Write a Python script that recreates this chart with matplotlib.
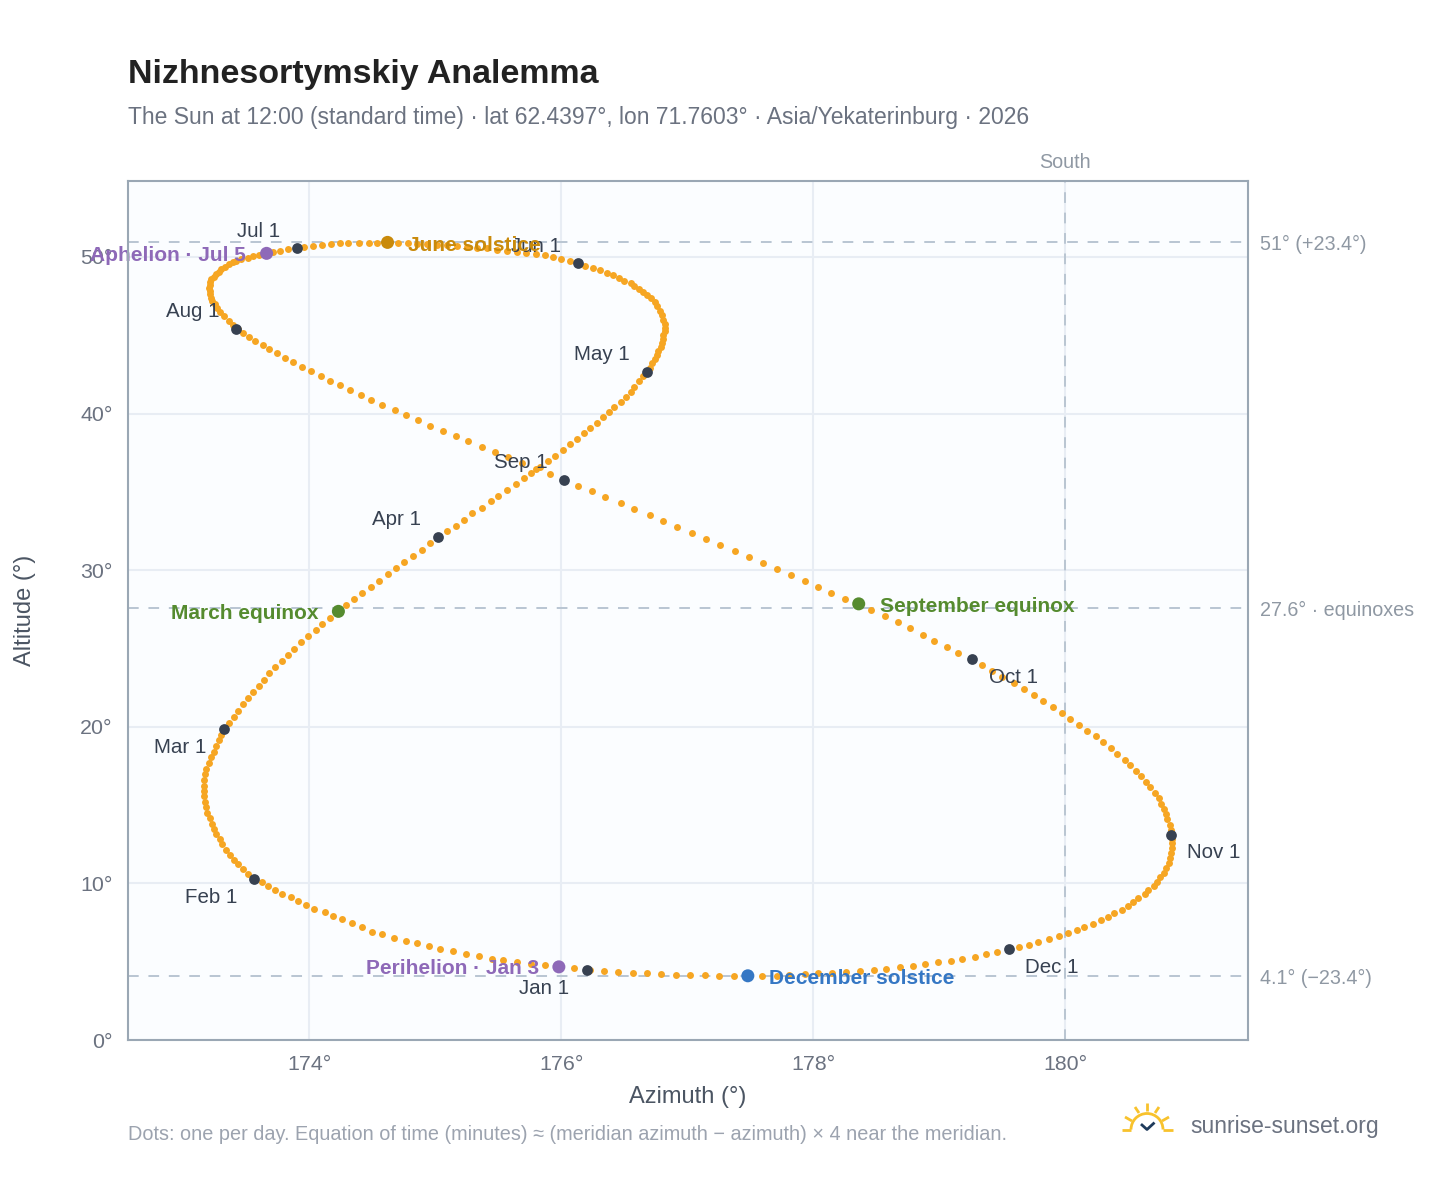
import matplotlib
matplotlib.use("Agg")
import matplotlib.pyplot as plt
from matplotlib.patches import Arc

plt.rcParams['font.family'] = ['Liberation Sans', 'DejaVu Sans']

jan_az = [176.23,176.10,175.98,175.87,175.76,175.65,175.54,175.45,175.35,175.24,175.14,175.04,174.95,174.85,174.77,174.67,174.58,174.50,174.42,174.34,174.26,174.19,174.12,174.04,173.97,173.91,173.85,173.78,173.73,173.67,173.62]
jan_alt = [4.47,4.57,4.65,4.78,4.88,5.00,5.10,5.20,5.36,5.50,5.68,5.80,6.00,6.20,6.30,6.50,6.77,6.90,7.24,7.47,7.70,7.94,8.18,8.38,8.62,8.86,9.10,9.34,9.58,9.82,10.06]
feb_az = [173.56,173.51,173.47,173.43,173.40,173.37,173.34,173.31,173.29,173.26,173.24,173.23,173.21,173.19,173.18,173.17,173.16,173.16,173.16,173.16,173.17,173.18,173.20,173.22,173.24,173.26,173.28,173.30]
feb_alt = [10.30,10.60,10.90,11.21,11.52,11.84,12.16,12.49,12.82,13.15,13.48,13.82,14.16,14.50,14.85,15.20,15.55,15.90,16.25,16.60,16.96,17.32,17.68,18.04,18.40,18.76,19.13,19.49]
mar_az = [173.33,173.36,173.40,173.43,173.47,173.51,173.55,173.60,173.64,173.68,173.73,173.78,173.83,173.88,173.93,173.99,174.05,174.10,174.16,174.23,174.29,174.35,174.42,174.49,174.55,174.62,174.69,174.75,174.82,174.89,174.96]
mar_alt = [19.85,20.24,20.64,21.03,21.43,21.82,22.22,22.62,23.01,23.41,23.81,24.20,24.60,24.99,25.39,25.79,26.18,26.58,26.97,27.37,27.77,28.16,28.56,28.95,29.34,29.74,30.13,30.53,30.92,31.31,31.71]
apr_az = [175.02,175.09,175.16,175.23,175.29,175.37,175.44,175.50,175.57,175.64,175.70,175.76,175.83,175.89,175.95,176.01,176.07,176.12,176.18,176.23,176.28,176.33,176.38,176.42,176.47,176.51,176.55,176.58,176.62,176.65]
apr_alt = [32.09,32.47,32.84,33.22,33.62,34.00,34.39,34.74,35.12,35.50,35.87,36.23,36.61,36.95,37.31,37.68,38.04,38.38,38.74,39.06,39.42,39.76,40.08,40.42,40.74,41.08,41.40,41.72,42.06,42.37]
may_az = [176.68,176.70,176.72,176.74,176.76,176.77,176.79,176.80,176.81,176.81,176.82,176.82,176.82,176.81,176.80,176.78,176.76,176.74,176.71,176.68,176.65,176.62,176.58,176.55,176.50,176.46,176.41,176.36,176.31,176.25,176.19]
may_alt = [42.66,42.94,43.21,43.48,43.74,44.00,44.25,44.51,44.76,45.01,45.25,45.49,45.73,45.98,46.30,46.57,46.85,47.11,47.36,47.57,47.79,47.96,48.13,48.32,48.49,48.68,48.83,49.00,49.15,49.28,49.44]
jun_az = [176.13,176.07,176.00,175.93,175.87,175.80,175.72,175.65,175.57,175.49,175.41,175.33,175.25,175.17,175.09,175.01,174.93,174.85,174.78,174.70,174.62,174.54,174.47,174.39,174.31,174.24,174.17,174.10,174.03,173.96]
jun_alt = [49.60,49.74,49.85,49.98,50.11,50.19,50.26,50.33,50.41,50.47,50.54,50.59,50.65,50.70,50.74,50.78,50.81,50.84,50.87,50.92,50.93,50.91,50.91,50.89,50.87,50.87,50.83,50.77,50.70,50.62]
jul_az = [173.89,173.83,173.77,173.71,173.65,173.60,173.55,173.51,173.46,173.42,173.39,173.36,173.33,173.30,173.28,173.26,173.24,173.22,173.21,173.21,173.20,173.21,173.21,173.22,173.23,173.25,173.27,173.29,173.32,173.36,173.39]
jul_alt = [50.57,50.49,50.40,50.32,50.23,50.14,50.04,49.95,49.86,49.76,49.65,49.52,49.38,49.23,49.07,48.91,48.75,48.60,48.40,48.21,48.02,47.83,47.64,47.41,47.19,46.97,46.74,46.51,46.23,45.93,45.66]
aug_az = [173.43,173.47,173.52,173.57,173.63,173.68,173.74,173.81,173.87,173.94,174.01,174.09,174.16,174.24,174.32,174.41,174.49,174.58,174.68,174.77,174.86,174.96,175.06,175.16,175.26,175.37,175.47,175.58,175.69,175.80,175.91]
aug_alt = [45.42,45.17,44.91,44.66,44.40,44.11,43.85,43.57,43.28,42.98,42.70,42.40,42.10,41.81,41.49,41.17,40.87,40.53,40.21,39.89,39.57,39.23,38.89,38.57,38.23,37.89,37.55,37.21,36.83,36.44,36.12]
sep_az = [176.01,176.13,176.24,176.35,176.47,176.58,176.70,176.81,176.92,177.04,177.15,177.26,177.38,177.49,177.60,177.71,177.82,177.93,178.04,178.14,178.25,178.36,178.46,178.57,178.67,178.77,178.87,178.96,179.06,179.15]
sep_alt = [35.76,35.40,35.04,34.67,34.29,33.91,33.52,33.14,32.76,32.38,31.99,31.61,31.23,30.84,30.46,30.08,29.69,29.31,28.93,28.54,28.19,27.84,27.46,27.08,26.69,26.31,25.89,25.48,25.10,24.71]
oct_az = [179.25,179.34,179.42,179.50,179.59,179.67,179.75,179.82,179.90,179.97,180.04,180.11,180.17,180.24,180.30,180.36,180.41,180.47,180.51,180.56,180.60,180.64,180.67,180.71,180.74,180.76,180.78,180.80,180.81,180.83,180.84]
oct_alt = [24.33,23.95,23.56,23.18,22.80,22.41,22.03,21.65,21.26,20.88,20.50,20.11,19.73,19.38,19.03,18.65,18.24,17.86,17.54,17.20,16.84,16.48,16.16,15.79,15.43,15.09,14.75,14.43,14.09,13.73,13.41]
nov_az = [180.85,180.85,180.85,180.85,180.84,180.83,180.82,180.80,180.78,180.75,180.73,180.70,180.66,180.63,180.58,180.54,180.50,180.45,180.39,180.34,180.28,180.22,180.15,180.09,180.02,179.95,179.87,179.78,179.71,179.63]
nov_alt = [13.11,12.84,12.56,12.24,11.92,11.60,11.28,10.96,10.68,10.39,10.11,9.85,9.58,9.32,9.07,8.83,8.58,8.32,8.09,7.87,7.64,7.43,7.22,7.01,6.83,6.64,6.45,6.26,6.09,5.92]
dec_az = [179.55,179.46,179.37,179.28,179.18,179.09,178.99,178.89,178.79,178.69,178.58,178.48,178.37,178.26,178.15,178.04,177.93,177.81,177.71,177.59,177.48,177.37,177.25,177.14,177.02,176.91,176.79,176.68,176.57,176.45,176.34]
dec_alt = [5.75,5.60,5.47,5.32,5.19,5.06,4.96,4.85,4.74,4.64,4.55,4.47,4.41,4.34,4.30,4.26,4.21,4.15,4.11,4.11,4.11,4.11,4.11,4.12,4.14,4.17,4.20,4.26,4.30,4.34,4.43]

day_az = jan_az + feb_az + mar_az + apr_az + may_az + jun_az + jul_az + aug_az + sep_az + oct_az + nov_az + dec_az
day_alt = jan_alt + feb_alt + mar_alt + apr_alt + may_alt + jun_alt + jul_alt + aug_alt + sep_alt + oct_alt + nov_alt + dec_alt

month_labels = ['Jan 1','Feb 1','Mar 1','Apr 1','May 1','Jun 1','Jul 1','Aug 1','Sep 1','Oct 1','Nov 1','Dec 1']
month_az = [176.20,173.56,173.32,175.02,176.68,176.13,173.90,173.42,176.02,179.26,180.84,179.55]
month_alt = [4.50,10.30,19.85,32.10,42.65,49.60,50.55,45.40,35.75,24.30,13.10,5.80]
month_off = [(-42.5,18.5),(-43,18.5),(-43.5,18),(-41,-17.5),(-45,-18),(-42,-17),(-38.5,-17),(-43.5,-17),(-43,-17.5),(41.5,18),(42.5,18),(43,18.5)]

event_labels = ['June solstice','December solstice','March equinox','September equinox','Perihelion · Jan 3','Aphelion · Jul 5']
event_az = [174.62,177.48,174.23,178.36,175.98,173.66]
event_alt = [50.93,4.10,27.37,27.85,4.67,50.23]
event_col = ['#c98a0b','#3577c4','#558b2f','#558b2f','#8e69b8','#8e69b8']
event_off = [(20,3,'left'),(21,2.5,'left'),(-20,2.5,'right'),(21,2.5,'left'),(-20,2,'right'),(-20.5,2.5,'right')]

ref_alt = [50.97,27.6,4.1]
ref_labels = ['51° (+23.4°)','27.6° · equinoxes','4.1° (−23.4°)']
x_ticks = [174,176,178,180]
y_ticks = [0,10,20,30,40,50]

W, H = 1448, 1188
fig = plt.figure(figsize=(W/100, H/100), dpi=100, facecolor='white')
ax = fig.add_axes([128/W, 1-1040/H, 1120/W, 859/H], facecolor='#fbfdff')
ax.set_xlim(172.56, 181.45)
ax.set_ylim(0, 54.85)
for s in ax.spines.values():
    s.set_color('#9aa7b4'); s.set_linewidth(1.5); s.set_zorder(6)
ax.set_xticks(x_ticks); ax.set_xticklabels([f'{v}°' for v in x_ticks])
ax.set_yticks(y_ticks); ax.set_yticklabels([f'{v}°' for v in y_ticks])
ax.tick_params(length=0, labelsize=15.4, labelcolor='#6b7280', pad=11)
ax.grid(True, color='#e8edf4', linewidth=1.5, zorder=0)
ax.set_axisbelow(True)

dash = (0, (5.5, 5))
for v, t in zip(ref_alt, ref_labels):
    ax.axhline(v, color='#b9c5d2', lw=1.4, ls=dash, zorder=1)
    ax.annotate(t, xy=(1, v), xycoords=('axes fraction', 'data'), xytext=(8.6, -2.2), textcoords='offset points',
                ha='left', va='center', fontsize=14.2, color='#8f98a3')
ax.axvline(180, color='#b9c5d2', lw=1.4, ls=dash, zorder=1)
ax.annotate('South', xy=(180, 1), xycoords=('data', 'axes fraction'), xytext=(0, 13), textcoords='offset points',
            ha='center', va='center', fontsize=14.2, color='#8f98a3')

ax.scatter(day_az, day_alt, s=25, color='#f6a623', linewidths=0, zorder=3)
ax.scatter(month_az, month_alt, s=60, color='#374151', linewidths=0, zorder=4)
ax.scatter(event_az, event_alt, s=88, c=event_col, linewidths=0, zorder=4)

for t, a, b, (dx, dy) in zip(month_labels, month_az, month_alt, month_off):
    ax.annotate(t, xy=(a, b), xytext=(dx*.72, -dy*.72), textcoords='offset points', ha='center', va='center',
                fontsize=14.8, color='#374151', zorder=5, annotation_clip=False)
for t, a, b, c, (dx, dy, ha) in zip(event_labels, event_az, event_alt, event_col, event_off):
    ax.annotate(t, xy=(a, b), xytext=(dx*.72, -dy*.72), textcoords='offset points', ha=ha, va='center',
                fontsize=15.05, fontweight='bold', color=c, zorder=5, annotation_clip=False)

fig.text(128/W, 1-75/H, 'Nizhnesortymskiy Analemma', fontsize=24.5, fontweight='bold', color='#222222', va='center', ha='left')
fig.text(128/W, 1-117.5/H, 'The Sun at 12:00 (standard time) · lat 62.4397°, lon 71.7603° · Asia/Yekaterinburg · 2026', fontsize=16.45, color='#6b7280', va='center', ha='left')
fig.text(688/W, 1-1097/H, 'Azimuth (°)', fontsize=17, color='#4b5563', va='center', ha='center')
fig.text(25/W, 1-610/H, 'Altitude (°)', fontsize=17, color='#4b5563', va='center', ha='center', rotation=90)
fig.text(128/W, 1-1134/H, 'Dots: one per day. Equation of time (minutes) ≈ (meridian azimuth − azimuth) × 4 near the meridian.', fontsize=14.3, color='#9ca3af', va='center', ha='left')
fig.text(1190/W, 1-1126.5/H, 'sunrise-sunset.org', fontsize=16.5, color='#6b7280', va='center', ha='left')

lg = fig.add_axes([0, 0, 1, 1], facecolor='none')
lg.set_xlim(0, W); lg.set_ylim(H, 0); lg.axis('off')
gold = '#f8c22c'
lg.add_patch(Arc((1147, 1129.5), 32, 32, theta1=180, theta2=360, color=gold, lw=2.0))
for seg in [((1122,1129.5),(1131,1129.5)), ((1163,1129.5),(1173,1129.5)), ((1147,1103),(1147,1111)),
            ((1135,1107),(1139,1113)), ((1159,1107),(1155,1113)), ((1125,1117),(1132,1121)), ((1169,1117),(1162,1121))]:
    lg.plot([seg[0][0], seg[1][0]], [seg[0][1], seg[1][1]], color=gold, lw=2.0, solid_capstyle='butt')
lg.plot([1142,1147,1153.5], [1125,1129.5,1123.5], color='#1f3b5c', lw=2.0)

fig.savefig('out.png', dpi=100)
